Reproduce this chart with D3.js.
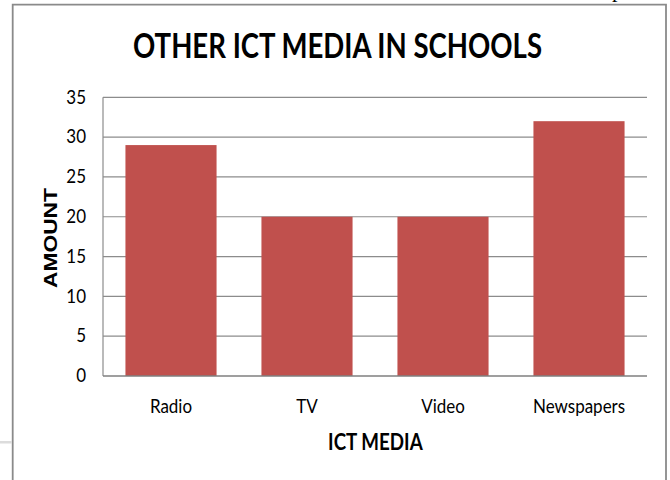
<!DOCTYPE html>
<html>
<head>
<meta charset="utf-8">
<script src="https://cdn.jsdelivr.net/npm/d3@7"></script>
<style>
  body { margin: 0; background: #fff; }
  svg { display: block; }
  text { font-family: Lato, "Open Sans", sans-serif; fill: #000; }
</style>
</head>
<body>
<div id="chart"></div>
<script>
// chart data
var categories = ["Radio", "TV", "Video", "Newspapers"];
var amounts = [29, 20, 20, 32];
var yTicks = [0, 5, 10, 15, 20, 25, 30, 35];

var width = 670,
    height = 480,
    plotLeft = 103, plotRight = 647,
    plotTop = 97.3, plotBottom = 376,
    stretch = 1.12; // the source picture is a bit taller than wide

var svg = d3.select("#chart")
    .append("svg")
    .attr("width", width)
    .attr("height", height);

// frame of the pasted chart
svg.append("path")
    .attr("d", "M12.7,480 V4.7 H666 V480")
    .attr("fill", "none")
    .attr("stroke", "#8a8a8a")
    .attr("stroke-width", 1.8);

// small bits from the page around the chart
svg.append("rect")
    .attr("x", 0).attr("y", 441)
    .attr("width", 12).attr("height", 2.5)
    .attr("fill", "#dcdcdc");
svg.append("text")
    .attr("x", 612).attr("y", -3.5)
    .style("font-family", "'Liberation Serif', serif")
    .style("font-size", "22px")
    .text("p");

var x = d3.scaleBand()
    .domain(categories)
    .range([plotLeft, plotRight])
    .paddingInner(0.33)
    .paddingOuter(0.165);

var y = d3.scaleLinear()
    .domain([0, 35])
    .range([plotBottom, plotTop]);

// gridlines
svg.append("g")
    .selectAll("line")
    .data(yTicks.filter(function(d) { return d > 0; }))
    .enter().append("line")
    .attr("x1", plotLeft).attr("x2", plotRight)
    .attr("y1", function(d) { return y(d); })
    .attr("y2", function(d) { return y(d); })
    .attr("stroke", "#8c8c8c")
    .attr("stroke-width", 1.2);

// bars
svg.append("g")
    .selectAll("rect")
    .data(amounts)
    .enter().append("rect")
    .attr("x", function(d, i) { return x(categories[i]); })
    .attr("y", function(d) { return y(d); })
    .attr("width", x.bandwidth())
    .attr("height", function(d) { return y(0) - y(d); })
    .attr("fill", "#C0504D");

// axis lines
svg.append("line")
    .attr("x1", plotLeft).attr("x2", plotLeft)
    .attr("y1", plotTop).attr("y2", plotBottom)
    .attr("stroke", "#8c8c8c").attr("stroke-width", 1.2);
svg.append("line")
    .attr("x1", plotLeft).attr("x2", plotRight)
    .attr("y1", plotBottom).attr("y2", plotBottom)
    .attr("stroke", "#7f7f7f").attr("stroke-width", 1.4);

// y tick labels
svg.append("g")
    .selectAll("text")
    .data(yTicks)
    .enter().append("text")
    .attr("transform", function(d) { return "translate(86," + (y(d) + 6.3) + ") scale(1," + stretch + ")"; })
    .attr("text-anchor", "end")
    .style("font-size", "17px")
    .text(function(d) { return d; });

// x tick labels
svg.append("g")
    .selectAll("text")
    .data(categories)
    .enter().append("text")
    .attr("transform", function(d) { return "translate(" + (x(d) + x.bandwidth() / 2) + ",412.7) scale(1," + stretch + ")"; })
    .attr("text-anchor", "middle")
    .style("font-size", "17px")
    .text(function(d) { return d; });

// title
svg.append("text")
    .attr("transform", "translate(337.5,57.7) scale(1," + stretch + ")")
    .attr("text-anchor", "middle")
    .attr("textLength", 409)
    .attr("lengthAdjust", "spacingAndGlyphs")
    .style("font-size", "30px")
    .style("font-weight", "bold")
    .text("OTHER ICT MEDIA IN SCHOOLS");

// axis titles
svg.append("text")
    .attr("transform", "translate(375.4,450) scale(1," + stretch + ")")
    .attr("text-anchor", "middle")
    .attr("textLength", 94.6)
    .attr("lengthAdjust", "spacingAndGlyphs")
    .style("font-size", "20.5px")
    .style("font-weight", "bold")
    .text("ICT MEDIA");

svg.append("text")
    .attr("transform", "translate(57.3,238) rotate(-90)")
    .attr("text-anchor", "middle")
    .attr("textLength", 100)
    .attr("lengthAdjust", "spacingAndGlyphs")
    .style("font-family", "'Liberation Sans', Arial, sans-serif")
    .style("font-size", "17.5px")
    .style("font-weight", "bold")
    .text("AMOUNT");
</script>
</body>
</html>
